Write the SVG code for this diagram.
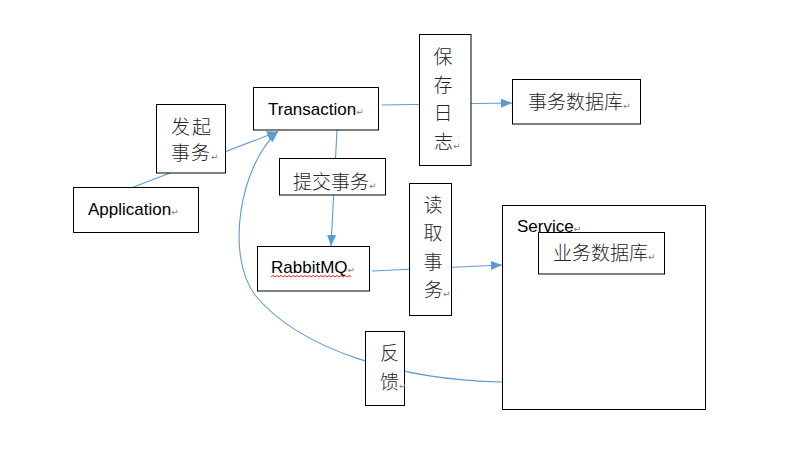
<svg xmlns="http://www.w3.org/2000/svg" width="810" height="464" viewBox="0 0 810 464">
<style>
.box{fill:#fff;stroke:#000;stroke-width:1}
.en{font-family:"Liberation Sans",Arial,sans-serif;font-size:17px;fill:#000}
.zh{font-family:"Noto Sans CJK SC",sans-serif;font-size:19px;fill:#262626;font-weight:300}
.pm{font-family:"DejaVu Sans",sans-serif;font-size:9px;fill:#808080;font-weight:normal}
.ln{fill:none;stroke:#5B9BD5;stroke-width:1.1}
</style>
<defs>
<marker id="ah" markerUnits="userSpaceOnUse" markerWidth="12" markerHeight="10" refX="11" refY="4.5" orient="auto">
<path d="M0,0 L11,4.5 L0,9 z" fill="#5B9BD5"/>
</marker>
</defs>
<rect width="810" height="464" fill="#fff"/>
<g id="connectors">
<line class="ln" x1="131" y1="188" x2="278" y2="131.5" marker-end="url(#ah)"/>
<path class="ln" d="M502,382 C400,380 300,350 255,295 C225,255 240,165 278,131.5" marker-end="url(#ah)"/>
<line class="ln" x1="382" y1="105" x2="512" y2="103" marker-end="url(#ah)"/>
<line class="ln" x1="337" y1="130" x2="331" y2="246" marker-end="url(#ah)"/>
<line class="ln" x1="372" y1="271" x2="502" y2="265" marker-end="url(#ah)"/>
</g>
<g id="application">
<rect class="box" x="73.5" y="187.5" width="125" height="45"/>
<text class="en" x="88" y="215">Application<tspan class="pm">↵</tspan></text>
</g>
<g id="faqi">
<rect class="box" x="156.5" y="104.5" width="69" height="68.5"/>
<text class="zh" x="171" y="134" letter-spacing="2">发起</text>
<text class="zh" x="171" y="160" letter-spacing="1">事务<tspan class="pm">↵</tspan></text>
</g>
<g id="transaction">
<rect class="box" x="253.5" y="87.5" width="125" height="42.5"/>
<text class="en" x="268" y="115">Transaction<tspan class="pm">↵</tspan></text>
</g>
<g id="baocun">
<rect class="box" x="419.5" y="34.5" width="51.5" height="131"/>
<text class="zh" x="443" y="64" text-anchor="middle">保</text>
<text class="zh" x="443" y="92" text-anchor="middle">存</text>
<text class="zh" x="443" y="120" text-anchor="middle">日</text>
<text class="zh" x="434" y="149">志<tspan class="pm">↵</tspan></text>
</g>
<g id="shiwushujuku">
<rect class="box" x="512.5" y="79.5" width="128" height="44.5"/>
<text class="zh" x="528" y="109">事务数据库<tspan class="pm">↵</tspan></text>
</g>
<g id="tijiao">
<rect class="box" x="279.5" y="158.5" width="106" height="36.5"/>
<text class="zh" x="293" y="189">提交事务<tspan class="pm">↵</tspan></text>
</g>
<g id="rabbitmq">
<rect class="box" x="257.5" y="246.5" width="112" height="44.5"/>
<text class="en" x="271" y="273">RabbitMQ<tspan class="pm">↵</tspan></text>
<path d="M271,277 l2,-1.5 l2,1.5 l2,-1.5 l2,1.5 l2,-1.5 l2,1.5 l2,-1.5 l2,1.5 l2,-1.5 l2,1.5 l2,-1.5 l2,1.5 l2,-1.5 l2,1.5 l2,-1.5 l2,1.5 l2,-1.5 l2,1.5 l2,-1.5 l2,1.5 l2,-1.5 l2,1.5 l2,-1.5 l2,1.5 l2,-1.5 l2,1.5 l2,-1.5 l2,1.5 l2,-1.5 l2,1.5 l2,-1.5 l2,1.5 l2,-1.5 l2,1.5 l2,-1.5 l2,1.5 l2,-1.5 l2,1.5 l2,-1.5 l2,1.5" fill="none" stroke="#E81123" stroke-width="0.9"/>
</g>
<g id="duqu">
<rect class="box" x="409.5" y="183.5" width="42" height="132"/>
<text class="zh" x="433" y="212" text-anchor="middle">读</text>
<text class="zh" x="433" y="240" text-anchor="middle">取</text>
<text class="zh" x="433" y="269" text-anchor="middle">事</text>
<text class="zh" x="424" y="297">务<tspan class="pm">↵</tspan></text>
</g>
<g id="service">
<rect class="box" x="502.5" y="205.5" width="203" height="204"/>
<text class="en" x="517" y="232">Service<tspan class="pm">↵</tspan></text>
</g>
<g id="yewushujuku">
<rect class="box" x="538.5" y="232.5" width="126" height="41.5"/>
<text class="zh" x="553" y="260">业务数据库<tspan class="pm">↵</tspan></text>
</g>
<g id="fankui">
<rect class="box" x="365.5" y="331.5" width="39" height="74"/>
<text class="zh" x="380" y="360">反</text>
<text class="zh" x="380" y="389">馈<tspan class="pm">↵</tspan></text>
</g>
</svg>
